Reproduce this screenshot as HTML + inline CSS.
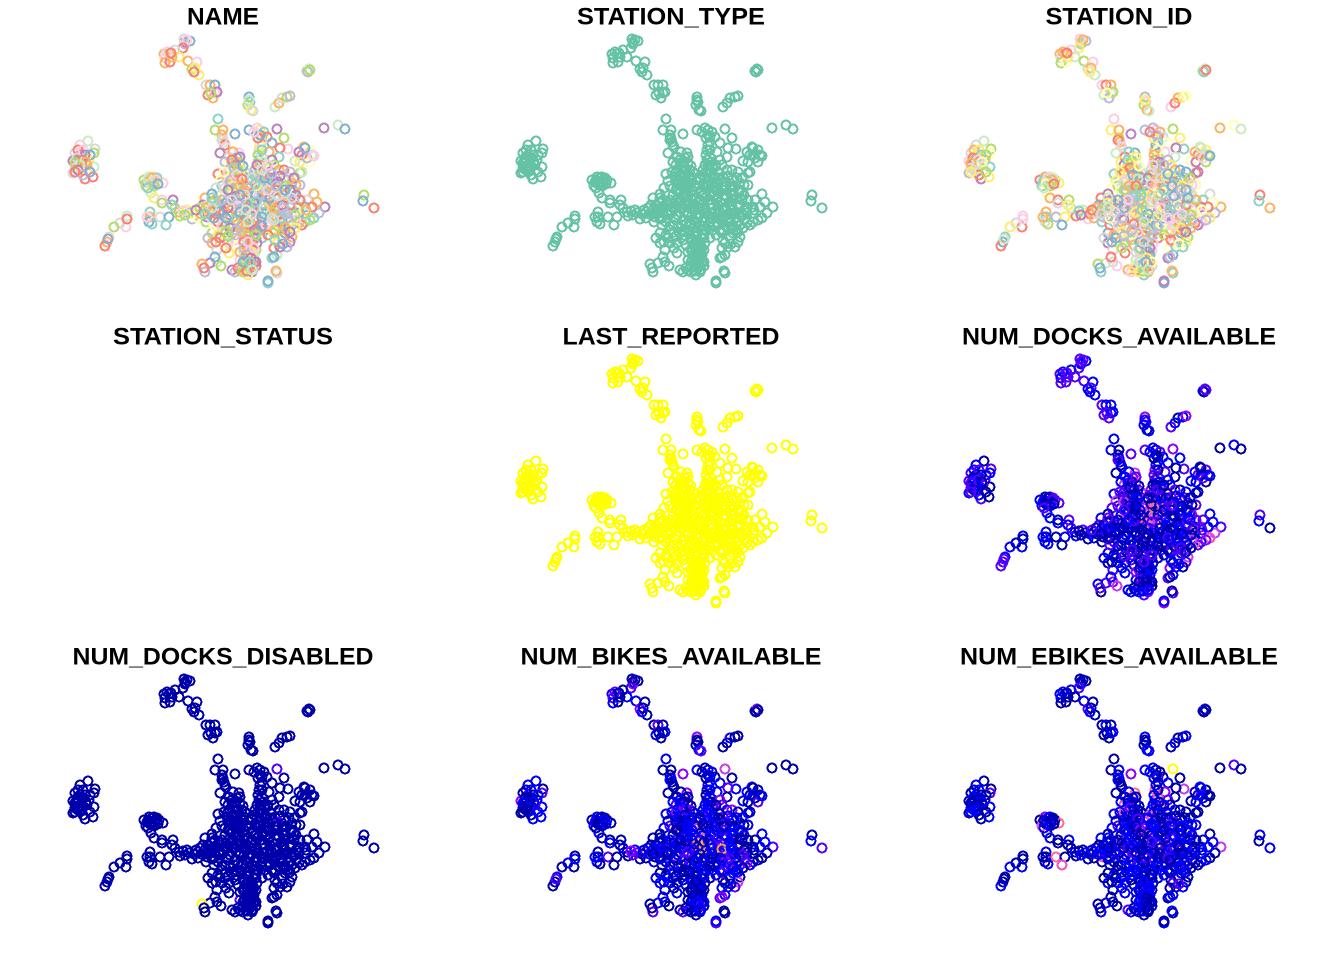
<!DOCTYPE html>
<html><head><meta charset="utf-8"><title>Station map panels</title>
<style>
html,body{margin:0;padding:0;background:#fff}
svg{display:block}
text{font-family:"Liberation Sans",sans-serif;font-weight:bold;font-size:24.5px;fill:#000;text-anchor:middle}
circle{fill:none;stroke-width:2;shape-rendering:crispEdges}
</style></head>
<body>
<svg id="chart" width="1344" height="960" viewBox="0 0 1344 960" xmlns="http://www.w3.org/2000/svg"></svg>
<script>
const panelTitles=["NAME","STATION_TYPE","STATION_ID","STATION_STATUS","LAST_REPORTED","NUM_DOCKS_AVAILABLE","NUM_DOCKS_DISABLED","NUM_BIKES_AVAILABLE","NUM_EBIKES_AVAILABLE"];
const categoryColors=["#8DD3C7","#FFFFB3","#BEBADA","#FB8072","#80B1D3","#FDB462","#B3DE69","#FCCDE5","#D9D9D9","#BC80BD","#CCEBC5","#FFED6F"];
const rampColors=["#0000AA","#0000FF","#5500FF","#9000FF","#C63DE8","#F050C0","#FF6A90","#FF9A40","#FFD020","#FFFF00"];
const stationEast=[
18.5,19.0,18.5,18.4,18.7,18.3,16.4,16.9,16.5,16.5,17.0,17.5,17.9,17.2,16.7,17.1,18.8,19.7,19.2,19.5,
19.9,19.4,20.6,21.0,21.5,20.8,21.5,21.3,21.7,21.1,30.7,30.9,30.8,31.0,24.9,25.0,24.8,25.1,24.9,25.3,
27.5,27.9,28.2,28.7,29.0,8.8,8.0,9.5,9.4,7.5,8.0,7.3,8.4,7.7,8.9,9.4,8.7,7.3,8.0,8.5,
9.3,7.9,8.2,7.5,14.4,14.9,15.4,15.9,16.3,15.2,14.7,15.5,15.1,15.4,16.2,16.2,17.3,15.0,14.6,15.7,
12.7,12.6,12.0,11.4,10.9,10.7,10.5,10.8,12.7,15.0,15.0,14.9,15.2,16.0,16.9,16.6,14.7,17.9,18.0,18.7,
18.9,19.2,19.8,20.5,20.5,21.1,21.5,20.7,17.5,21.9,18.3,19.4,20.1,17.2,18.5,19.8,20.3,20.9,21.2,21.7,
22.2,22.3,22.4,22.5,22.2,22.6,22.0,23.5,21.5,22.3,21.8,24.9,23.9,22.9,23.7,23.2,24.0,23.0,23.5,24.2,
21.8,22.0,22.7,23.4,24.4,22.5,23.5,23.0,24.2,22.8,23.6,23.3,24.1,24.6,22.2,23.1,23.8,22.8,24.5,22.5,
26.0,25.7,26.4,26.2,26.7,27.7,27.2,28.4,28.8,28.0,25.9,26.0,26.9,27.9,27.2,25.9,26.2,27.4,25.5,26.0,
26.4,27.9,28.4,26.7,26.2,25.7,27.5,25.2,28.4,26.9,25.9,28.9,29.2,30.0,30.2,30.0,29.2,29.4,30.4,31.0,
31.2,30.2,30.5,29.5,30.0,31.0,30.7,29.9,31.4,30.5,31.4,30.7,32.5,31.9,31.7,30.5,31.2,31.4,30.5,29.9,
29.2,29.9,30.5,29.9,30.2,31.0,29.2,28.9,29.2,28.5,29.0,28.7,28.2,27.4,27.7,27.4,27.7,27.2,27.4,28.0,
27.7,26.8,26.8,27.6,28.0,28.5,27.0,26.2,26.5,27.5,28.4,27.0,26.0,25.0,24.0,23.0,22.0,21.0,22.5,23.5,
24.5,25.6,26.3,27.7,28.4,29.2,28.8,27.8,26.8,25.8,24.8,23.8,22.8,21.8,23.2,24.2,25.2,26.2,27.2,28.2,
25.0,25.8,26.6,27.4,28.2,25.4,26.2,27.0,25.2,26.2,27.2,28.2,24.0,23.0,22.2,23.6,24.6,25.6,26.6,27.6,
21.2,21.2,21.7,22.9,22.2,23.2,22.5,23.5,22.2,21.7,21.0,22.1,20.2,20.5,20.4,23.2,21.5,22.9,23.4,22.5,
24.3,25.0,25.6,24.7,25.4,24.3,25.0,25.6,24.6,25.3,24.3,25.0,25.6,24.6,25.3,24.0,24.7,25.4,24.3,25.0,
25.6,24.6,25.2,24.0,24.8,23.5,23.8,25.4,25.0,24.6,25.8,26.2,24.0,23.6,23.8,24.0,25.7,24.9,24.3,25.0,
22.5,21.5,20.8,23.8,24.6,25.6,26.6,27.6,28.6,29.6,29.6,30.6,29.6,29.0,28.0,27.2,26.5,25.5,24.5,23.5,
32.4,33.8,34.5,36.4,36.3,37.4,22.8,22.4,29.0,29.4,29.6,23.0,21.6,21.2,21.4,20.6,21.4,21.8,20.8,22.6,
25.5,26.2,27.0,27.8,28.5,25.0,25.8,26.8,27.6,28.4,24.4,23.6,22.6,21.6,21.2,20.8,22.4,23.2,24.2,25.2,
26.0,26.5,25.8,27.0,27.8,26.4,27.2,25.6,24.8,24.4,25.2,26.0,26.8,28.0,28.6,27.6,26.6,25.8,24.6,23.8,
23.2,23.6,24.0,23.4,23.8,24.3,23.1,23.7,24.2,23.3,24.0,22.8,26.2,25.8,26.2,25.8,26.3,25.7,26.0,25.4,
24.5,25.0,25.5,24.8,25.2,24.7,25.2,24.8,24.5,25.1,24.7,25.2,24.7,25.3,24.3,25.6,25.4,24.4,24.2,25.6,
28.0,28.8,28.2,29.0,27.2,26.4,28.4,29.4,29.0,30.0,29.5,22.8,23.8,21.8,21.4,22.2,23.0,22.6,23.6,22.0,
21.2,20.6,20.0,19.6,24.0,25.0,26.0,26.6,27.5,28.2,28.8,27.8,26.8,27.5,28.5,29.5,29.0,28.3,21.6,22.8,
7.8,8.3,8.5,9.0,7.7,8.2,8.6,8.0,7.5,7.8,8.3,9.0,7.5,14.8,15.2,15.6,15.0,15.4,15.8,14.8,
26.2,27.0,27.8,25.6,26.4,27.4,28.3,25.2,26.2,27.2,28.1,24.6,23.8,22.8,21.9,21.2,20.5,26.8,27.6,28.5,
24.5,25.5,26.5,27.2,26.2,26.8,24.0,23.2,22.2,21.2,24.8,26.2,27.4,24.4,25.0,24.8,25.2,22.6,28.6,29.2];
const stationNorth=[
25.8,25.9,25.6,26.1,26.0,25.2,24.6,24.6,24.2,23.7,23.8,25.0,24.3,24.3,24.8,24.7,23.9,23.8,23.1,23.2,
22.5,22.8,21.5,21.5,21.5,20.5,20.7,20.2,20.8,20.7,22.9,23.1,22.8,23.0,20.3,19.8,19.5,19.0,20.0,18.9,
19.3,19.7,20.2,20.3,20.4,15.9,15.5,15.1,14.7,14.7,14.5,13.9,14.2,13.7,14.0,13.3,13.5,12.7,12.9,12.1,
12.3,14.0,13.3,13.2,12.0,12.3,12.3,12.0,11.7,11.5,11.8,11.7,10.7,10.2,10.0,9.7,10.0,11.8,11.4,12.2,
8.4,7.3,7.7,7.3,6.3,5.8,5.4,6.1,8.1,8.8,8.3,7.8,7.6,8.3,8.3,7.5,8.3,8.8,8.4,9.0,
8.7,8.1,8.8,10.2,9.0,9.8,8.7,8.3,9.2,9.8,8.9,8.6,8.6,9.5,8.5,8.2,9.5,8.7,8.1,9.3,
16.5,16.2,15.8,15.5,16.0,15.3,14.7,16.6,17.0,17.0,18.1,17.0,14.7,14.3,14.2,13.7,13.7,13.0,12.8,13.0,
12.6,11.9,12.3,12.2,12.3,11.2,11.5,11.7,11.7,13.5,13.4,14.8,12.4,11.4,11.4,12.4,12.0,12.8,12.8,13.8,
17.0,17.2,16.8,16.3,16.3,17.1,15.7,16.2,15.1,15.2,15.0,15.5,14.8,14.3,14.0,14.0,14.3,13.5,13.0,13.0,
13.3,13.0,13.0,12.3,12.2,12.3,12.3,12.0,12.0,11.7,11.5,12.2,11.7,12.7,12.8,11.5,11.0,10.8,15.3,15.0,
14.5,14.5,14.5,13.9,13.8,13.8,14.2,14.8,14.4,15.2,10.6,10.0,9.3,8.7,9.8,9.3,9.3,8.2,8.7,9.3,
8.5,8.7,7.8,7.7,7.5,8.0,7.5,7.0,6.3,6.7,5.8,5.3,6.2,6.7,5.7,5.2,4.5,4.2,4.3,5.3,
2.7,1.7,1.9,2.9,8.0,7.5,7.5,7.8,7.0,7.8,8.6,8.5,8.5,8.5,8.5,8.5,8.5,8.8,9.3,9.3,
9.4,9.1,9.5,9.2,9.4,9.5,10.1,10.4,10.0,10.3,10.1,10.3,10.0,9.6,10.9,10.7,10.9,10.6,10.8,10.7,
11.2,11.8,11.2,11.4,11.4,12.5,12.6,12.8,10.0,9.6,9.8,9.8,9.7,9.7,9.0,8.8,8.9,8.7,8.8,8.9,
6.7,5.7,5.0,4.7,7.0,6.7,6.2,6.0,5.7,3.8,3.7,3.4,3.6,2.8,3.2,3.0,4.3,5.7,7.5,7.5,
7.5,7.2,7.4,6.8,6.6,6.2,6.0,6.2,5.6,5.4,5.0,4.8,5.0,4.4,4.2,4.0,3.8,3.8,3.4,3.2,
3.4,3.0,2.8,3.0,2.5,2.8,3.2,4.5,5.5,6.5,6.9,6.2,7.0,6.5,5.5,4.8,5.7,4.2,2.8,3.7,
10.5,10.0,9.5,11.2,10.5,10.5,10.5,10.5,10.5,10.5,9.0,9.0,8.0,7.8,7.2,7.0,8.2,8.0,8.0,8.0,
17.2,17.5,17.1,10.5,9.9,9.2,11.8,12.8,12.8,12.2,11.5,11.0,11.2,10.6,9.2,7.8,7.5,6.5,6.2,5.2,
10.5,10.0,9.5,9.0,10.0,9.7,9.0,8.2,8.4,9.0,10.0,10.4,9.7,9.2,9.7,9.0,8.8,9.2,9.2,9.2,
13.5,12.5,12.8,12.2,11.8,11.6,12.0,11.4,11.4,11.0,12.2,12.0,11.4,12.4,11.4,11.0,10.8,11.2,9.6,9.4,
14.0,13.8,14.3,13.2,13.0,13.4,12.0,12.5,12.1,11.4,11.4,11.0,15.8,16.2,15.0,14.5,13.8,13.5,16.5,16.8,
7.2,6.8,7.0,6.4,5.8,5.2,4.8,4.5,4.0,4.2,3.4,3.4,2.9,3.0,3.8,3.8,5.2,5.8,6.8,6.5,
8.5,8.8,9.5,9.5,8.8,8.6,10.5,10.0,11.0,10.0,8.5,8.0,7.6,7.8,8.2,7.4,7.2,6.8,7.0,6.2,
8.8,9.2,9.2,9.0,8.8,8.2,7.5,7.5,7.0,7.8,8.2,7.4,6.5,6.0,7.2,7.2,6.8,5.6,5.8,6.4,
15.0,15.0,14.5,14.5,14.2,14.0,13.8,13.5,13.7,13.0,12.5,12.8,12.8,12.0,12.2,12.0,11.6,11.4,11.6,11.2,
10.5,10.2,10.4,9.8,9.2,9.1,9.2,8.6,8.3,8.2,8.2,9.0,9.9,9.2,8.8,9.2,8.6,11.0,11.4,11.0,
10.5,11.6,12.2,12.6,13.0,13.5,10.5,10.0,10.0,10.2,7.8,7.4,8.0,5.2,3.8,5.8,3.0,8.2,8.6,10.2];
const nameCategory=[
9,4,2,8,7,3,5,6,7,5,3,8,11,5,7,3,5,7,6,11,
11,3,8,5,4,3,7,5,9,6,6,10,2,6,4,0,6,11,10,8,
10,5,8,6,2,10,7,8,6,8,3,9,4,3,11,10,5,8,11,3,
3,4,9,8,6,10,11,1,7,3,9,2,10,11,7,6,9,11,6,0,
10,7,8,6,7,5,3,4,3,0,5,4,0,8,4,0,7,5,6,11,
0,2,1,5,10,0,3,9,6,2,7,11,5,0,6,1,9,2,8,10,
5,7,10,3,8,7,9,4,6,5,0,4,7,8,4,0,6,7,3,11,
3,1,5,0,4,10,7,9,8,1,3,5,11,2,0,6,3,7,10,2,
11,7,0,5,3,9,4,6,7,3,8,11,5,0,9,4,10,6,2,8,
1,5,3,11,7,6,2,0,10,4,9,8,5,6,10,2,9,0,5,1,
8,3,7,10,11,1,2,9,7,4,5,8,9,2,5,4,3,0,10,6,
7,4,0,5,3,6,0,8,5,4,9,2,5,6,11,3,10,0,4,9,
8,0,4,5,10,11,0,9,3,6,7,1,2,5,4,3,8,9,5,7,
3,6,4,9,10,2,8,5,0,7,11,3,2,4,6,5,7,10,9,0,
2,3,8,6,10,0,5,9,7,4,3,11,8,1,3,6,9,5,0,2,
6,5,8,11,0,3,4,7,1,10,9,6,5,2,3,9,4,8,11,6,
3,9,5,0,7,8,4,3,2,5,10,11,6,3,8,7,9,4,11,3,
3,6,9,5,11,2,3,10,7,6,4,0,8,2,1,5,9,3,6,0,
11,5,7,0,9,4,2,10,8,9,1,5,7,6,4,11,10,5,3,0,
9,10,4,6,4,3,7,1,2,9,5,0,8,4,10,6,1,11,2,3,
4,9,5,3,0,6,2,10,5,7,3,9,4,0,6,11,3,5,2,9,
5,0,7,3,9,6,4,11,3,5,8,2,0,9,6,3,5,10,4,7,
3,5,9,0,6,4,2,7,3,11,5,9,8,3,0,6,10,9,4,7,
5,3,9,6,3,5,11,3,0,9,6,5,3,2,4,9,7,3,5,6,
5,0,9,3,6,4,5,2,9,3,6,0,5,3,4,7,9,6,2,3,
3,5,6,9,4,0,3,7,5,9,2,6,3,0,5,11,9,4,3,6,
3,7,9,4,8,3,5,10,6,9,2,4,3,10,5,7,8,6,4,0,
2,4,8,0,10,5,2,7,4,8,0,10,2,9,4,8,0,7,2,4,
8,0,4,2,10,7,4,8,2,0,10,4,8,2,0,7,10,4,2,8];
const stationIdCategory=[
8,2,6,7,5,11,5,3,8,6,1,7,10,11,5,3,6,7,8,5,
10,11,7,3,5,10,8,2,6,1,6,10,0,3,2,7,6,5,11,10,
7,3,5,11,1,10,8,6,1,8,11,7,6,3,5,0,10,2,11,9,
11,4,6,8,3,5,10,6,11,7,2,0,1,5,3,8,6,11,0,10,
7,3,8,11,0,4,3,10,7,5,0,8,6,2,11,4,5,1,3,10,
11,7,6,3,8,5,1,2,10,6,0,3,7,11,9,5,4,10,2,8,
1,6,5,8,3,7,10,9,11,5,7,2,4,3,1,0,10,5,6,8,
0,11,1,7,3,10,5,6,2,9,11,0,4,8,6,1,5,3,10,11,
7,2,5,3,8,6,1,11,0,9,5,4,7,10,2,3,6,11,8,1,
9,5,4,7,3,1,11,6,0,10,8,2,5,3,9,1,6,7,10,11,
6,3,8,1,9,6,7,5,4,10,8,0,5,2,1,9,3,11,7,6,
5,1,7,3,9,2,10,8,6,4,11,0,5,3,7,1,4,9,2,0,
0,4,9,5,1,3,7,11,6,8,10,2,4,0,5,1,9,3,7,6,
11,1,5,3,6,10,0,8,9,7,1,4,3,6,2,10,0,5,11,7,
9,5,3,1,6,0,7,11,10,2,8,4,1,3,6,5,0,9,11,7,
4,9,7,3,5,0,1,6,11,8,10,7,6,0,4,5,3,2,1,8,
0,7,11,4,1,6,3,9,5,0,8,2,7,11,6,10,1,5,4,7,
8,1,5,3,0,7,11,4,9,6,10,3,2,1,5,8,7,0,11,4,
1,9,3,6,11,5,0,8,4,10,7,1,2,6,3,11,5,9,0,7,
5,1,10,3,0,5,8,11,4,6,7,2,1,9,10,0,3,5,8,6,
11,5,3,0,6,7,1,4,9,10,5,2,8,3,11,6,0,7,5,1,
6,0,5,11,3,7,10,1,4,6,9,5,3,0,11,7,1,5,6,2,
0,6,11,3,5,1,7,4,10,5,3,6,0,11,1,5,9,7,2,3,
11,5,0,3,6,1,4,5,7,11,0,3,6,5,10,1,9,4,7,2,
5,6,1,3,0,11,7,10,4,5,6,9,3,0,1,7,5,11,2,4,
7,0,5,3,11,6,4,1,10,5,0,7,6,3,11,5,9,1,4,2,
5,11,0,6,3,7,1,10,5,8,3,6,11,0,7,5,1,6,3,10,
10,2,4,8,7,0,2,4,10,7,8,0,2,4,7,10,8,0,4,2,
0,7,10,4,8,2,0,7,4,10,8,2,7,0,4,8,10,2,7,4];
const docksAvailable=[
14,8,9,15,13,16,14,19,8,15,14,9,13,16,8,14,13,9,7,15,
7,9,13,7,8,14,7,13,8,14,10,13,2,14,20,15,8,3,9,7,
14,8,3,7,20,2,8,14,7,13,8,15,7,8,13,2,14,7,8,14,
3,9,7,13,7,2,8,14,13,7,8,2,9,7,3,8,14,2,8,13,
8,7,2,8,9,14,15,13,3,8,2,7,8,2,8,3,7,2,8,14,
3,2,8,7,13,2,8,3,15,7,2,8,3,7,2,8,14,3,2,8,
2,7,8,3,13,8,2,14,8,2,7,14,26,8,20,14,26,20,32,8,
8,26,2,20,14,8,2,13,8,26,14,8,2,20,13,3,8,14,26,8,
2,8,14,2,8,20,8,7,14,2,20,8,14,2,8,3,14,8,20,8,
8,14,2,8,26,8,20,2,14,8,2,13,8,7,2,14,8,7,3,13,
8,14,2,7,8,3,13,8,7,2,8,14,14,26,8,20,7,32,8,2,
14,2,8,32,14,20,8,14,26,8,13,2,14,8,3,20,8,14,2,8,
14,20,8,3,26,8,14,2,13,8,20,26,8,14,2,8,3,14,8,2,
8,14,32,26,8,26,2,14,8,20,38,8,32,2,14,8,32,26,14,20,
26,34,38,32,8,14,2,20,32,26,8,14,20,2,14,8,26,14,3,8,
8,2,14,7,3,8,2,14,8,20,14,26,8,2,14,8,7,3,2,8,
8,2,14,7,3,8,26,14,8,2,20,3,8,14,26,8,2,7,14,8,
2,8,20,3,14,8,2,7,8,14,3,8,2,14,8,20,2,14,8,3,
7,14,2,8,26,8,14,3,8,20,2,14,26,8,14,2,8,3,14,8,
2,8,2,14,8,3,26,14,8,3,2,8,14,2,8,3,14,2,8,7,
3,26,8,2,14,38,8,2,3,8,14,2,8,3,2,14,8,2,3,8,
2,8,14,3,2,8,14,2,26,8,3,2,14,8,2,3,8,38,2,8,
8,3,14,2,8,3,14,2,8,3,2,14,8,2,3,14,8,2,3,8,
2,8,3,14,2,8,3,2,14,8,3,2,8,14,3,2,8,2,3,14,
3,8,2,14,3,8,2,8,3,14,2,8,3,14,2,8,3,2,14,8,
2,8,3,14,2,3,8,2,14,3,8,2,3,8,14,2,3,8,2,14,
8,14,2,8,3,14,2,8,14,3,8,2,14,8,3,14,2,8,3,14,
2,8,3,14,2,3,8,2,3,14,8,2,14,3,2,8,3,2,14,8,
3,2,8,3,14,2,3,8,2,14,3,2,8,2,3,14,8,2,3,8];
const docksDisabled=[
0,0,0,0,0,0,0,0,0,0,0,0,0,0,0,0,0,0,0,0,
0,0,0,0,0,0,0,0,0,0,0,0,0,0,0,0,0,0,0,0,
0,0,0,0,0,0,0,0,0,0,0,0,0,0,0,0,0,0,0,0,
0,0,0,0,0,0,0,0,0,0,0,0,0,0,0,0,0,0,0,0,
0,0,0,0,0,0,0,0,0,0,0,0,0,0,0,0,0,0,0,0,
0,0,0,0,0,0,0,0,0,0,0,0,0,0,0,0,0,0,0,0,
0,0,0,0,0,0,0,0,0,0,0,0,0,0,0,0,0,0,0,0,
0,0,0,0,0,0,0,0,0,0,0,0,0,0,0,0,0,0,0,0,
0,0,0,0,0,2,0,0,0,0,0,0,0,0,0,0,0,0,0,0,
0,0,0,0,2,0,0,0,0,0,0,0,0,0,0,0,0,0,0,0,
0,0,0,0,0,0,0,0,0,0,0,0,0,0,0,0,0,0,0,0,
0,0,0,0,0,0,0,0,0,0,0,0,0,0,0,0,0,0,0,0,
0,0,0,0,0,0,0,0,0,0,0,0,0,0,0,0,0,0,0,0,
0,0,0,0,0,0,0,0,0,0,0,0,0,0,0,0,0,0,0,0,
0,0,0,0,0,0,0,0,0,0,0,0,0,0,0,0,0,0,0,0,
0,0,0,0,0,0,0,0,0,0,0,0,10,0,0,0,0,0,0,0,
0,0,0,0,0,0,2,0,0,0,0,0,0,0,0,2,0,0,0,0,
0,0,0,0,0,0,0,0,0,0,0,0,0,0,0,0,0,0,0,0,
0,0,0,0,0,0,0,0,0,0,0,0,0,0,0,0,0,0,0,0,
0,0,0,0,0,0,0,0,0,0,0,0,0,0,0,0,0,0,0,0,
0,0,0,0,0,0,0,0,0,0,0,0,0,0,0,0,0,0,0,0,
0,0,0,0,2,0,0,0,0,0,0,0,0,0,0,0,0,0,0,0,
0,0,0,0,0,0,0,0,0,0,0,0,0,0,0,0,0,0,0,0,
0,0,0,0,0,0,0,0,0,0,0,0,0,0,0,0,0,0,0,0,
0,0,0,0,0,0,0,0,0,0,0,0,0,0,0,0,0,0,0,0,
0,0,0,0,0,0,0,0,0,0,0,0,0,0,0,0,0,0,0,0,
0,0,0,0,0,0,0,0,0,0,0,0,0,0,0,0,0,0,0,0,
0,0,0,0,0,0,0,0,0,0,0,0,0,0,0,0,0,0,0,0,
0,0,0,0,0,0,0,0,0,0,0,0,0,0,0,0,0,0,0,0];
const bikesAvailable=[
1,2,12,2,1,9,5,2,9,6,1,2,6,1,9,2,5,1,13,2,
1,6,2,9,1,6,2,1,5,2,1,14,2,1,14,1,2,5,1,9,
2,1,5,2,1,6,5,1,9,2,9,13,2,5,1,6,9,2,1,5,
6,1,9,2,1,6,2,5,1,2,9,1,5,2,1,6,1,2,5,1,
2,1,5,2,6,1,2,9,5,1,2,6,1,9,2,1,5,2,1,6,
9,2,13,1,6,2,9,1,5,2,13,1,6,2,9,1,2,5,1,6,
1,5,2,1,6,2,1,13,2,1,5,6,13,2,5,6,1,2,6,13,
5,1,2,6,1,9,5,2,6,9,13,2,5,1,9,6,2,13,5,6,
5,2,6,1,2,17,6,1,5,9,2,5,6,2,13,5,6,9,2,6,
9,6,13,2,6,5,9,2,6,5,13,6,2,5,1,6,9,2,5,1,
2,1,6,5,2,9,1,5,6,2,5,2,9,1,6,2,5,1,6,2,
6,1,2,13,6,1,9,5,2,6,17,9,6,13,2,6,5,9,13,6,
2,9,6,1,13,6,9,2,5,13,6,9,2,5,1,6,2,9,5,2,
6,30,9,30,6,13,2,9,13,6,17,5,9,2,13,6,25,30,6,9,
17,6,13,9,2,6,13,9,5,6,9,2,13,6,1,9,5,6,13,2,
2,5,1,6,2,1,5,2,6,1,5,2,1,9,2,1,6,2,5,9,
2,6,1,5,2,6,1,9,2,5,1,6,2,1,5,2,6,1,5,2,
1,5,2,6,1,9,1,2,5,6,2,1,5,2,6,1,2,5,1,6,
2,6,1,5,2,9,6,2,5,6,1,2,9,5,2,6,1,5,2,9,
1,2,1,1,5,9,2,6,1,5,2,1,6,2,1,5,2,1,6,2,
6,1,5,9,2,30,6,1,9,5,2,6,1,9,2,5,6,1,9,30,
5,2,6,1,9,5,2,6,1,5,2,6,1,5,2,9,6,1,2,5,
6,2,1,5,9,2,6,1,5,2,6,1,5,2,6,1,2,5,6,1,
6,1,5,2,6,1,5,2,6,1,5,9,2,6,1,5,2,6,1,5,
9,2,6,1,5,2,6,1,5,2,9,6,1,2,5,6,1,5,2,6,
2,6,1,5,9,2,6,1,5,13,2,9,6,1,5,2,6,1,5,2,
2,6,1,5,2,1,6,2,5,1,2,6,1,5,2,6,1,2,5,1,
6,9,5,2,6,30,5,1,6,2,9,5,1,6,2,5,1,6,2,5,
5,2,6,1,5,2,6,1,5,2,6,1,5,2,6,1,5,2,6,1];
const ebikesAvailable=[
0,0,1,0,0,2,1,0,1,0,0,1,0,0,1,0,1,0,2,0,
0,1,0,1,0,0,1,0,1,0,0,1,0,0,1,0,0,1,0,1,
0,1,0,0,1,0,1,0,2,0,1,0,1,0,0,1,0,0,1,0,
1,0,0,1,0,3,1,0,6,0,1,0,0,1,0,0,1,0,5,0,
0,1,0,1,0,0,1,0,0,1,0,0,1,6,0,5,0,1,0,0,
1,0,0,1,0,0,1,5,0,1,0,0,1,0,1,0,0,1,0,0,
0,1,0,0,1,0,0,3,0,1,0,1,6,0,1,0,1,0,1,0,
1,0,0,1,0,1,0,1,0,5,0,1,0,1,2,0,1,5,0,1,
0,1,0,2,0,10,1,0,4,0,6,1,3,0,2,1,5,0,1,5,
6,1,0,3,1,6,0,1,0,5,2,0,1,0,0,1,2,0,1,0,
0,1,2,0,1,0,1,0,0,1,0,1,4,0,1,0,1,0,1,0,
1,0,1,0,0,1,0,2,0,1,0,1,0,1,2,0,1,0,1,0,
0,1,0,1,2,0,1,0,1,0,1,0,2,1,0,1,5,2,1,0,
1,2,0,3,1,2,0,1,2,0,1,10,2,5,1,0,2,1,0,2,
3,1,2,0,1,5,2,0,1,2,0,1,2,1,6,2,1,0,2,1,
0,1,0,1,0,1,0,0,1,0,1,0,0,1,0,2,0,1,0,0,
1,0,2,0,1,0,1,0,0,1,0,1,0,1,0,0,1,0,2,0,
1,0,0,1,0,1,0,1,2,0,0,1,0,1,0,1,0,1,0,1,
0,1,0,1,2,0,1,2,0,1,0,1,0,2,1,0,1,0,1,2,
0,2,0,1,0,1,0,1,0,0,1,0,1,0,1,0,0,1,0,1,
0,1,2,0,1,0,1,0,1,2,0,1,0,1,0,1,0,2,1,0,
1,0,1,0,2,1,0,1,0,3,1,0,1,0,1,2,0,1,0,1,
0,1,0,2,1,0,1,0,2,1,0,1,0,1,0,1,0,1,0,1,
1,0,1,0,1,0,1,0,1,0,1,0,1,0,1,0,1,0,1,0,
0,1,0,1,2,0,1,0,1,0,1,0,1,0,1,0,1,0,1,0,
0,1,0,1,0,2,1,0,1,0,1,0,1,0,1,0,1,2,0,1,
0,1,0,0,1,0,1,0,0,1,0,0,1,0,1,0,0,1,0,1,
1,0,1,2,0,1,0,1,0,2,1,0,1,0,1,0,1,0,1,0,
0,1,0,1,0,1,0,1,0,1,0,1,0,1,0,1,0,1,0,1];
const stationTypeColor="#66C2A5";
const lastReportedColor="#FFFF00";
const titleWidths=[72,188,147,220,217,314,301,301,318];

const svgNS="http://www.w3.org/2000/svg";
const chart=document.getElementById("chart");
const panelWidth=448,panelHeight=320,titleCenter=223,titleBaseline=24.5,ringRadius=4.4;
function xScale(east,col){return col*panelWidth+east*10;}
function yScale(north,row){return row*panelHeight+300-north*10;}
function rampColor(v,max){return rampColors[Math.max(0,Math.min(9,Math.floor(v/max*10)))];}
function catColor(v){return categoryColors[v%categoryColors.length];}
const panelColorFns=[
  i=>catColor(nameCategory[i]),
  i=>stationTypeColor,
  i=>catColor(stationIdCategory[i]),
  null,
  i=>lastReportedColor,
  i=>rampColor(docksAvailable[i],60),
  i=>rampColor(docksDisabled[i],10),
  i=>rampColor(bikesAvailable[i],40),
  i=>rampColor(ebikesAvailable[i],10)
];
panelTitles.forEach((title,p)=>{
  const col=p%3,row=Math.floor(p/3);
  const g=document.createElementNS(svgNS,"g");
  
  
  const t=document.createElementNS(svgNS,"text");
  
  
  t.setAttribute("x",col*panelWidth+titleCenter);
  t.setAttribute("y",row*panelHeight+titleBaseline);
  t.setAttribute("textLength",titleWidths[p]);
  t.setAttribute("lengthAdjust","spacingAndGlyphs");
  t.textContent=title;
  g.appendChild(t);
  const fn=panelColorFns[p];
  if(fn){
    for(let i=0;i<stationEast.length;i++){
      const c=document.createElementNS(svgNS,"circle");
      
      
      c.setAttribute("cx",xScale(stationEast[i],col));
      c.setAttribute("cy",yScale(stationNorth[i],row));
      c.setAttribute("r",ringRadius);
      c.setAttribute("stroke",fn(i));
      g.appendChild(c);
    }
  }
  chart.appendChild(g);
});
</script>
</body></html>
